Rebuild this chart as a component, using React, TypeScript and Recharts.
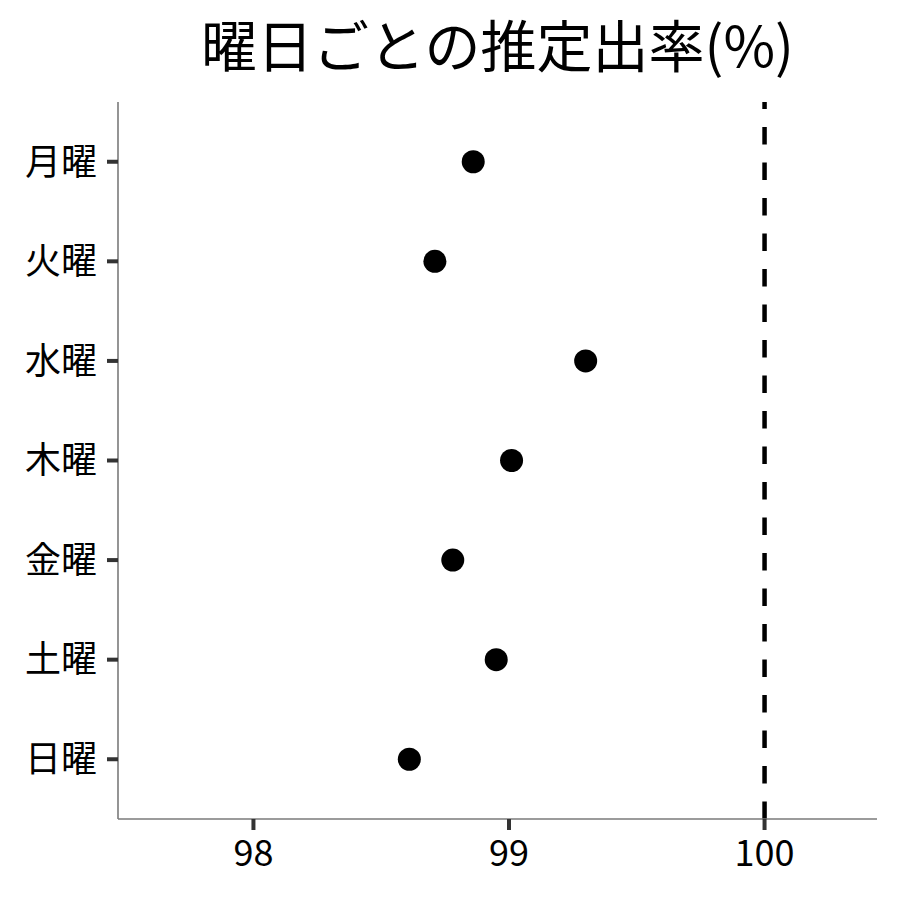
import { ScatterChart, Scatter, XAxis, YAxis, ReferenceLine } from "recharts";

const days = ["月曜", "火曜", "水曜", "木曜", "金曜", "土曜", "日曜"];
const rates = [98.86, 98.71, 99.3, 99.01, 98.78, 98.95, 98.61];
const xTicks = [98, 99, 100];
const refRate = 100;

const data = days.map((d, i) => ({ day: d, idx: i + 1, rate: rates[i] }));

const FONT = '"Noto Sans CJK JP", "Noto Sans", sans-serif';

const Dot = (props: any) => (
  <circle cx={props.cx} cy={props.cy} r={11.5} fill="#000" />
);

export default function App() {
  return (
    <div style={{ position: "relative", width: 884, height: 884, fontFamily: FONT }}>
      <div
        style={{
          position: "absolute",
          left: 110,
          width: 759,
          top: 7,
          fontSize: 56,
          lineHeight: "56px",
          textAlign: "center",
          color: "#000",
        }}
      >
        曜日ごとの推定出率(%)
      </div>
      <ScatterChart
        width={884}
        height={884}
        margin={{ top: 94, right: 15, bottom: 0, left: 0 }}
      >
        <XAxis
          type="number"
          dataKey="rate"
          domain={[97.47, 100.44]}
          ticks={xTicks}
          allowDataOverflow
          height={73}
          tickSize={11}
          tickMargin={10}
          axisLine={{ stroke: "#7a7a7a", strokeWidth: 1.6 }}
          tickLine={{ stroke: "#333", strokeWidth: 4 }}
          tick={{ fill: "#000", fontSize: 36, fontFamily: FONT }}
        />
        <YAxis
          type="number"
          dataKey="idx"
          domain={[0.4, 7.6]}
          ticks={[1, 2, 3, 4, 5, 6, 7]}
          reversed
          allowDataOverflow
          interval={0}
          width={110}
          tickSize={11}
          tickMargin={10}
          tickFormatter={(v: number) => days[v - 1]}
          axisLine={{ stroke: "#7a7a7a", strokeWidth: 1.6 }}
          tickLine={{ stroke: "#333", strokeWidth: 4 }}
          tick={{ fill: "#000", fontSize: 36, fontFamily: FONT }}
        />
        <ReferenceLine
          x={refRate}
          stroke="#000"
          strokeWidth={4.5}
          strokeDasharray="17.5 18"
        />
        <Scatter data={data} shape={Dot} isAnimationActive={false} />
      </ScatterChart>
    </div>
  );
}
